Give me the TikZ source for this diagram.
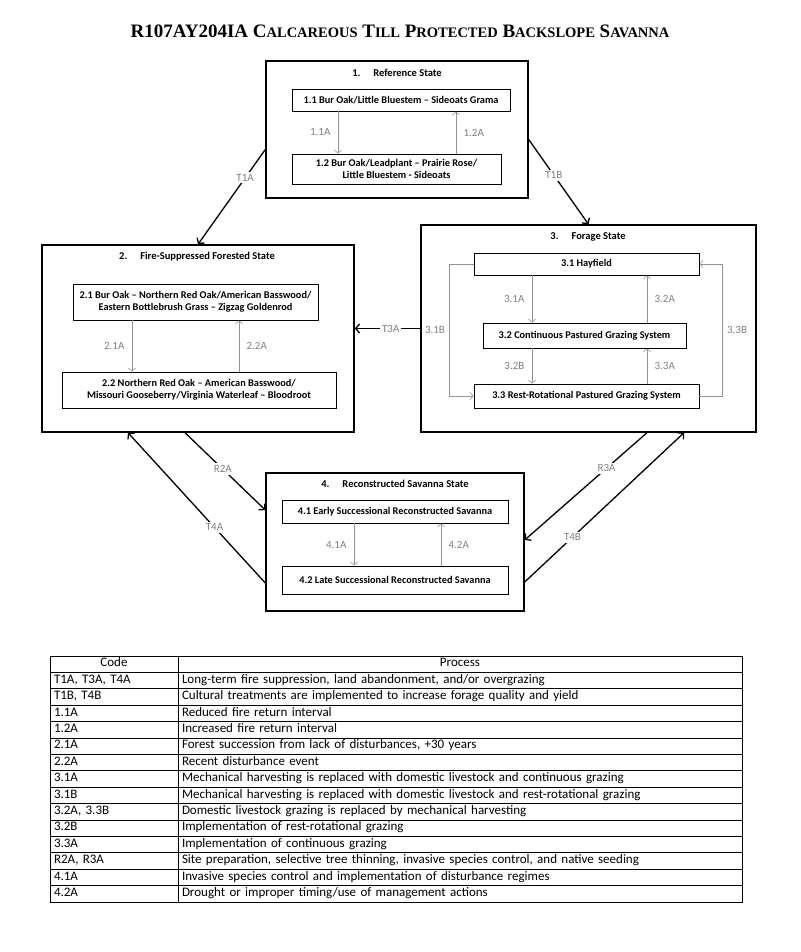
\documentclass[tikz,border=0pt]{standalone}
\usepackage{fontspec}
\setmainfont{Carlito}
\newfontfamily\titlefont{Liberation Serif}
\usetikzlibrary{arrows.meta,positioning}
\newcommand{\smcap}[2]{#1{\fontsize{14.5}{16}\selectfont #2}}

\begin{document}
\begin{tikzpicture}[x=1pt,y=-1pt,
  statebox/.style={draw,line width=1.4pt,inner sep=0pt},
  statetitle/.style={font=\fontsize{10.5}{12}\selectfont\bfseries},
  phasebox/.style={draw,line width=0.9pt,align=center,inner sep=0pt,font=\fontsize{10.3}{12}\selectfont\bfseries},
  phasearrow/.style={draw=gray!85,line width=0.6pt,-{Straight Barb[length=3pt,width=7pt]}},
  trans/.style={line width=1.3pt,-{Straight Barb[length=4pt,width=9pt]}},
  codelabel/.style={text=gray,font=\fontsize{11}{12}\selectfont},
  translabel/.style={codelabel,fill=white,inner sep=2pt},
  cell/.style={draw,line width=0.8pt,minimum height=16.4pt,inner xsep=4pt,inner ysep=0pt,
    text height=8.5pt,text depth=3pt,font=\fontsize{13}{14}\selectfont}]
\useasboundingbox (0,0) rectangle (800,952);

\node[font=\titlefont\bfseries\fontsize{19}{22}\selectfont] (title) at (400,31)
  {R107AY204IA \smcap{C}{ALCAREOUS} \smcap{T}{ILL} \smcap{P}{ROTECTED} \smcap{B}{ACKSLOPE} \smcap{S}{AVANNA}};

% state 1
\node[statebox,minimum width=262pt,minimum height=137pt] (s1) at (397,129.5) {};
\node[statetitle] (s1t) at (397,73) {1.\hspace{13pt}Reference State};
\node[phasebox,minimum width=218pt,minimum height=22pt] (p11) at (401,100) {1.1 Bur Oak/Little Bluestem -- Sideoats Grama};
\node[phasebox,minimum width=209pt,minimum height=30pt] (p12) at (396.5,169) {1.2 Bur Oak/Leadplant -- Prairie Rose/\\Little Bluestem - Sideoats};
\draw[phasearrow] (338,0 |- p11.south) -- node[codelabel,left=4pt] (l11a) {1.1A} (338,0 |- p12.north);
\draw[phasearrow] (456,0 |- p12.north) -- node[codelabel,right=4pt] (l12a) {1.2A} (456,0 |- p11.south);

% state 2
\node[statebox,minimum width=312pt,minimum height=187pt] (s2) at (198,338.5) {};
\node[statetitle] (s2t) at (197,257) {2.\hspace{13pt}Fire-Suppressed Forested State};
\node[phasebox,minimum width=245pt,minimum height=36pt] (p21) at (195.5,302) {2.1 Bur Oak -- Northern Red Oak/American Basswood/\\Eastern Bottlebrush Grass -- Zigzag Goldenrod};
\node[phasebox,minimum width=274pt,minimum height=36pt] (p22) at (199,390) {2.2 Northern Red Oak -- American Basswood/\\Missouri Gooseberry/Virginia Waterleaf -- Bloodroot};
\draw[phasearrow] (132,0 |- p21.south) -- node[codelabel,left=4pt] (l21a) {2.1A} (132,0 |- p22.north);
\draw[phasearrow] (239,0 |- p22.north) -- node[codelabel,right=4pt] (l22a) {2.2A} (239,0 |- p21.south);

% state 3
\node[statebox,minimum width=335pt,minimum height=207pt] (s3) at (588.5,328.5) {};
\node[statetitle] (s3t) at (588,237) {3.\hspace{13pt}Forage State};
\node[phasebox,minimum width=225pt,minimum height=22pt] (p31) at (586.5,264) {3.1 Hayfield};
\node[phasebox,minimum width=203pt,minimum height=25pt] (p32) at (584.5,335.5) {3.2 Continuous Pastured Grazing System};
\node[phasebox,minimum width=225pt,minimum height=24pt] (p33) at (586.5,396) {3.3 Rest-Rotational Pastured Grazing System};
\draw[phasearrow] (532,0 |- p31.south) -- node[codelabel,left=4pt] (l31a) {3.1A} (532,0 |- p32.north);
\draw[phasearrow] (647,0 |- p32.north) -- node[codelabel,right=4pt] (l32a) {3.2A} (647,0 |- p31.south);
\draw[phasearrow] (532,0 |- p32.south) -- node[codelabel,left=4pt] (l32b) {3.2B} (532,0 |- p33.north);
\draw[phasearrow] (647,0 |- p33.north) -- node[codelabel,right=4pt] (l33a) {3.3A} (647,0 |- p32.south);
\draw[phasearrow] (p31.west) -- ++(-24,0) |- node[codelabel,left=1pt,pos=0.25] (l31b) {3.1B} (p33.west);
\draw[phasearrow] (p33.east) -- ++(23,0) |- node[codelabel,right=1pt,pos=0.25] (l33b) {3.3B} (p31.east);

% state 4
\node[statebox,minimum width=258pt,minimum height=138pt] (s4) at (395,542) {};
\node[statetitle] (s4t) at (395,484) {4.\hspace{13pt}Reconstructed Savanna State};
\node[phasebox,minimum width=226pt,minimum height=23pt] (p41) at (395,511.5) {4.1 Early Successional Reconstructed Savanna};
\node[phasebox,minimum width=226pt,minimum height=28pt] (p42) at (395,580) {4.2 Late Successional Reconstructed Savanna};
\draw[phasearrow] (354,0 |- p41.south) -- node[codelabel,left=4pt] (l41a) {4.1A} (354,0 |- p42.north);
\draw[phasearrow] (441,0 |- p42.north) -- node[codelabel,right=4pt] (l42a) {4.2A} (441,0 |- p41.south);

% transitions
\draw[trans] ([yshift=-20pt]s1.west) -- node[translabel,pos=0.3] (t1a) {T1A} (s2.north);
\draw[trans] ([yshift=-10pt]s1.east) -- node[translabel,pos=0.42] (t1b) {T1B} (s3.north);
\draw[trans] (s3.west) -- node[translabel,pos=0.45] (t3a) {T3A} (s3.west -| s2.east);
\draw[trans] ([xshift=-13pt]s2.south) -- node[translabel,pos=0.47] (r2a) {R2A} ([yshift=32pt]s4.west);
\draw[trans] ([yshift=-41pt]s4.west) -- node[translabel,pos=0.37] (t4a) {T4A} ([xshift=-70pt]s2.south);
\draw[trans] ([xshift=58.5pt]s3.south) -- node[translabel,pos=0.33] (r3a) {R3A} ([yshift=2pt]s4.east);
\draw[trans] ([yshift=-40pt]s4.east) -- node[translabel,pos=0.3] (t4b) {T4B} ([xshift=95.5pt]s3.south);

% legend table
\node[cell,text width=120pt,align=center] (c0) at (114,664.2) {Code};
\node[cell,text width=556pt,align=center] (d0) at (460,664.2) {Process};
\foreach \code/\proc [count=\i] in {
  {T1A, T3A, T4A}/{Long-term fire suppression, land abandonment, and/or overgrazing},
  {T1B, T4B}/{Cultural treatments are implemented to increase forage quality and yield},
  1.1A/Reduced fire return interval,
  1.2A/Increased fire return interval,
  2.1A/{Forest succession from lack of disturbances, +30 years},
  2.2A/Recent disturbance event,
  3.1A/Mechanical harvesting is replaced with domestic livestock and continuous grazing,
  3.1B/Mechanical harvesting is replaced with domestic livestock and rest-rotational grazing,
  {3.2A, 3.3B}/Domestic livestock grazing is replaced by mechanical harvesting,
  3.2B/Implementation of rest-rotational grazing,
  3.3A/Implementation of continuous grazing,
  {R2A, R3A}/{Site preparation, selective tree thinning, invasive species control, and native seeding},
  4.1A/Invasive species control and implementation of disturbance regimes,
  4.2A/{Drought or improper timing/use of management actions}}
{
  \node[cell,text width=120pt,align=left] (c\i) at (114,{664.2+16.4*\i}) {\code};
  \node[cell,text width=556pt,align=left] (d\i) at (460,{664.2+16.4*\i}) {\proc};
}
\end{tikzpicture}
\end{document}
